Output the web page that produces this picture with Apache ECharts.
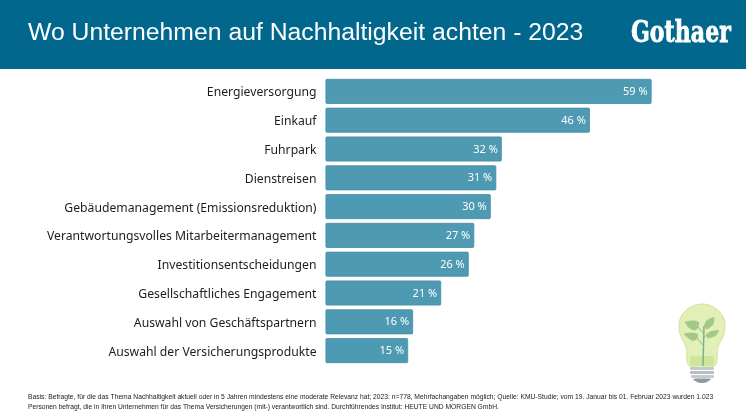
<!DOCTYPE html>
<html><head><meta charset="utf-8">
<style>html,body{margin:0;padding:0;background:#fff}#c{width:746px;height:420px}</style>
<script src="https://cdn.jsdelivr.net/npm/echarts@6/dist/echarts.min.js"></script>
</head><body><div id="c"></div>
<script>
const categories = ['Energieversorgung','Einkauf','Fuhrpark','Dienstreisen','Gebäudemanagement (Emissionsreduktion)','Verantwortungsvolles Mitarbeitermanagement','Investitionsentscheidungen','Gesellschaftliches Engagement','Auswahl von Geschäftspartnern','Auswahl der Versicherungsprodukte'];
// bar lengths as drawn in the picture (the Einkauf bar is drawn longer than its printed 46 %)
const barLengths = [59.2,48,32,31,30,27,26,21,15.9,15];
const printedLabels = ['59 %','46 %','32 %','31 %','30 %','27 %','26 %','21 %','16 %','15 %'];
const titleText = 'Wo Unternehmen auf Nachhaltigkeit achten - 2023';
const logoText = 'Gothaer';
const noteLines = [
 'Basis: Befragte, für die das Thema Nachhaltigkeit aktuell oder in 5 Jahren mindestens eine moderate Relevanz hat; 2023: n=778, Mehrfachangaben möglich; Quelle: KMU-Studie; vom 19. Januar bis 01. Februar 2023 wurden 1.023',
 'Personen befragt, die in ihren Unternehmen für das Thema Versicherungen (mit-) verantwortlich sind. Durchführendes Institut: HEUTE UND MORGEN GmbH.'
];
const chart = echarts.init(document.getElementById('c'),null,{renderer:'canvas'});
function poly(points,fill,smooth,extra){return Object.assign({type:'polygon',shape:{points,smooth:smooth===undefined?0.5:smooth},style:{fill}},extra||{});}
const bulb = [
 poly([[702,304],[715,308],[724,319],[724,334],[718,347],[714.500,366],[689.500,366],[686,347],[680,334],[680,319],[689,308]],'#e2f0b8',0.35,{style:{fill:'#e2f0b8',stroke:'#cfe59c',lineWidth:1}}),
 {type:'rect',shape:{x:690,y:356,width:24,height:10,r:[0,0,2,2]},style:{fill:'#cfe59c'}},
 {type:'line',shape:{x1:703,y1:366,x2:704,y2:326},style:{stroke:'#7fae93',lineWidth:1.5}},
 {type:'line',shape:{x1:703,y1:345,x2:697,y2:338},style:{stroke:'#8fb89a',lineWidth:1}},
 {type:'line',shape:{x1:704,y1:334,x2:698,y2:327},style:{stroke:'#8fb89a',lineWidth:1}},
 {type:'line',shape:{x1:704,y1:337,x2:710,y2:333},style:{stroke:'#8fb89a',lineWidth:1}},
 poly([[685,322],[692,320.500],[699,322],[698,328],[695,330.500],[689,328]],'#a3c987',0.2),
 poly([[714,317],[713.500,324],[707,329.500],[704,326],[706,321]],'#a3c987',0.2),
 poly([[684,334],[691,332.500],[698,334],[697,339],[693,341],[688,338]],'#a3c987',0.2),
 poly([[719,330],[716,335.500],[708,338.500],[706,335],[710,331.500]],'#a3c987',0.2),
 {type:'rect',shape:{x:690,y:367,width:24,height:3,r:1},style:{fill:'#c4cbcf'}},
 {type:'rect',shape:{x:690,y:371,width:24,height:3,r:1},style:{fill:'#b6bec2'}},
 {type:'rect',shape:{x:691,y:375,width:23,height:3,r:1},style:{fill:'#c4cbcf'}},
 poly([[693,379],[711,379],[706,382.500],[702,383],[698,382.500]],'#8f989c',0.2)
];
chart.setOption({
 animation:false,
 backgroundColor:'#ffffff',
 grid:{left:325.5,top:77,width:330.500,height:288,containLabel:false},
 xAxis:{type:'value',min:0,max:60,show:false},
 yAxis:{type:'category',inverse:true,data:categories,
  axisLine:{show:false},axisTick:{show:false},
  axisLabel:{color:'#1d1d1d',fontFamily:'Noto Sans',fontSize:12.2,margin:9,verticalAlign:'top',lineHeight:3}},
 series:[{type:'bar',data:barLengths,barWidth:25,
  itemStyle:{color:'#4f9ab3',borderColor:'#428ea9',borderWidth:0.8,borderRadius:1},
  label:{show:true,position:'insideRight',distance:4,offset:[0,0.5],color:'#ffffff',fontFamily:'Noto Sans',fontSize:11,
   formatter:(o)=>printedLabels[o.dataIndex]}}],
 graphic:[
  {type:'rect',z:0,shape:{x:0,y:0,width:746,height:69},style:{fill:'#01678c'}},
  {type:'text',x:28,y:33,style:{text:titleText,fill:'#fff',font:'24.75px "Liberation Sans"',textVerticalAlign:'middle'}},
  {type:'text',x:631,y:34,scaleX:0.96,scaleY:1.3,style:{text:logoText,fill:'#fff',stroke:'#fff',lineWidth:0.6,font:'bold 23px "DejaVu Serif"',textVerticalAlign:'middle'}},
  {type:'text',x:28,y:397,style:{text:noteLines[0],fill:'#222',font:'6.73px "Liberation Sans"',textVerticalAlign:'middle'}},
  {type:'text',x:28,y:407,style:{text:noteLines[1],fill:'#222',font:'6.73px "Liberation Sans"',textVerticalAlign:'middle'}},
  ...bulb
 ]
});
</script></body></html>
